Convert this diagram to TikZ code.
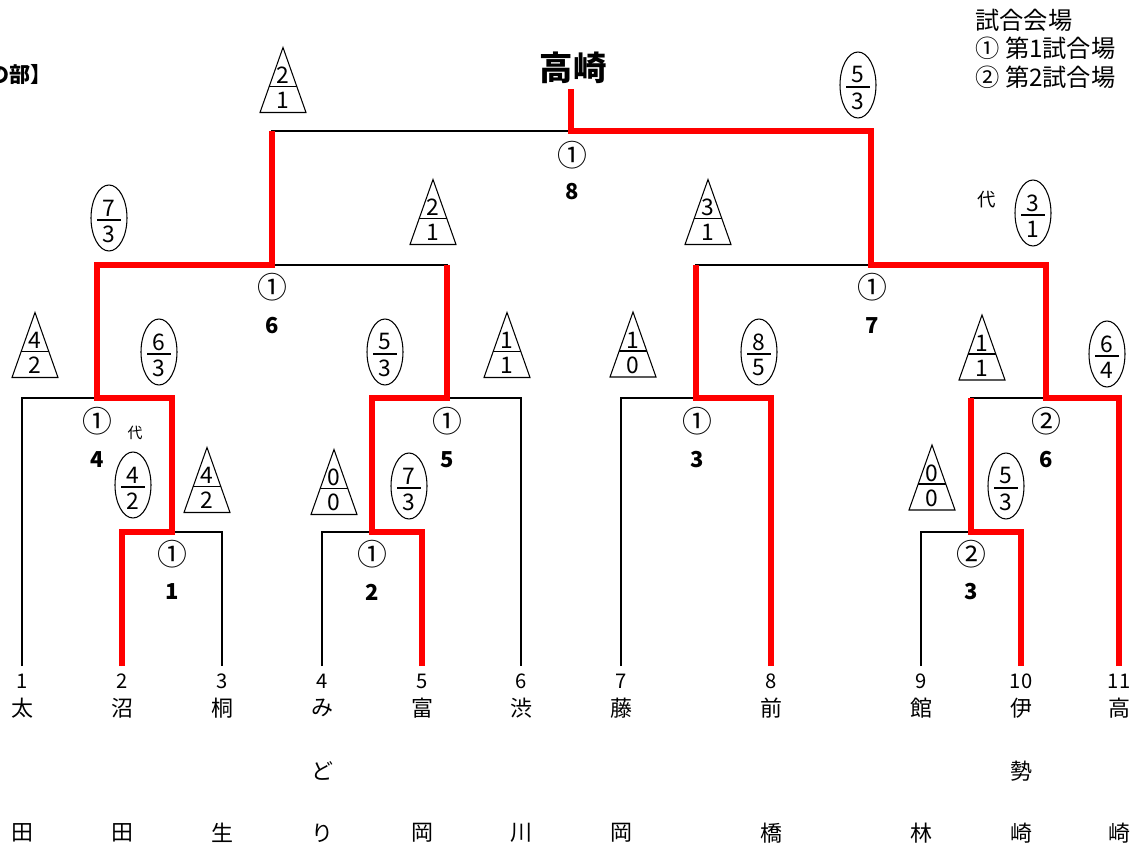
\documentclass[tikz,border=0pt]{standalone}
\usepackage{fontspec}
\setmainfont{Noto Sans CJK JP}

\newcommand{\ScoreTri}[5]{%
  \draw[markline] (#2,#3-33) -- (#2+23,#3+32) -- (#2-23,#3+32) -- cycle;
  \draw[markline] (#2-14,#3+6) -- (#2+14,#3+6);
  \node[score] (#1a) at (#2,#3-5) {#4};
  \node[score] (#1b) at (#2,#3+20) {#5};
}
\newcommand{\ScoreOval}[5]{%
  \draw[markline] (#2,#3) ellipse [x radius=0.36cm, y radius=0.66cm];
  \draw[markline] (#2-12,#3+2) -- (#2+12,#3+2);
  \node[score] (#1a) at (#2,#3-10) {#4};
  \node[score] (#1b) at (#2,#3+16) {#5};
}

\begin{document}
\begin{tikzpicture}[x=0.02cm, y=-0.02cm,
  lose/.style={black, line width=0.8pt},
  win/.style={red, line width=2.9pt},
  markline/.style={black, line width=0.6pt},
  score/.style={font=\fontsize{13}{13}\selectfont, inner sep=0pt},
  venue/.style={font=\fontsize{17}{17}\selectfont, inner sep=0pt},
  matchno/.style={font=\bfseries\fontsize{12.5}{13}\selectfont, inner sep=0pt},
  teamno/.style={font=\fontsize{11.5}{12}\selectfont, inner sep=0pt},
  teamname/.style={font=\fontsize{12.5}{13}\selectfont, inner sep=0pt},
  legend/.style={font=\fontsize{13.8}{14}\selectfont, inner sep=0pt, anchor=west}]

\useasboundingbox (0,0) rectangle (1140,851);

\node[anchor=east, inner sep=0pt, font=\bfseries\fontsize{12}{12}\selectfont] (title) at (52,75) {の部】};

\node[legend] (lg0) at (975,20) {試合会場};
\node[legend] (lg1) at (975,48) {① 第1試合場};
\node[legend] (lg2) at (975,77) {② 第2試合場};

\node[inner sep=0pt, font=\bfseries\fontsize{19}{19}\selectfont] (champ) at (573,68) {高崎};
\coordinate (top) at (571,89);

\coordinate (t1) at (22,666);
\coordinate (t2) at (122,666);
\coordinate (t3) at (222,666);
\coordinate (t4) at (322,666);
\coordinate (t5) at (422,666);
\coordinate (t6) at (521,666);
\coordinate (t7) at (621,666);
\coordinate (t8) at (771,666);
\coordinate (t9) at (921,666);
\coordinate (t10) at (1021,666);
\coordinate (t11) at (1119,666);

\coordinate (m1) at (172,532);
\coordinate (m2) at (372,532);
\coordinate (m3) at (696,398);
\coordinate (m4) at (97,398);
\coordinate (m5) at (447,398);
\coordinate (m6) at (272,265);
\coordinate (m7) at (871,265);
\coordinate (m8) at (571,131);
\coordinate (m9) at (971,532);
\coordinate (m10) at (1046,398);

\coordinate (s3) at (696,265);
\coordinate (s5) at (447,265);
\coordinate (s6) at (272,131);
\coordinate (s9) at (971,398);

\draw[lose] (t2) |- (m1) -| (t3);
\draw[lose] (t1) |- (m4) -| (m1);
\draw[lose] (t4) |- (m2) -| (t5);
\draw[lose] (m2) |- (m5) -| (t6);
\draw[lose] (m4) |- (m6) -| (m5);
\draw[lose] (t7) |- (m3) -| (t8);
\draw[lose] (t9) |- (m9) -| (t10);
\draw[lose] (m9) |- (m10) -| (t11);
\draw[lose] (m3) |- (m7) -| (m10);
\draw[lose] (m6) |- (m8) -| (m7);
\draw[lose] (m8) -- (top);

\draw[win] (t2) |- (m1) |- (m4) |- (m6) -- (s6);
\draw[win] (t5) |- (m2) |- (m5) -- (s5);
\draw[win] (t8) |- (m3) -- (s3);
\draw[win] (t10) |- (m9) -- (s9);
\draw[win] (t11) |- (m10) |- (m7) |- (m8) -- (top);

\node[venue] (v1) at (172,554) {①};
\node[matchno] (n1) at (172,592) {1};
\node[venue] (v2) at (372,554) {①};
\node[matchno] (n2) at (372,592) {2};
\node[venue] (v3) at (697,421) {①};
\node[matchno] (n3) at (697,460) {3};
\node[venue] (v4) at (97,421) {①};
\node[matchno] (n4) at (97,460) {4};
\node[venue] (v5) at (447,421) {①};
\node[matchno] (n5) at (447,460) {5};
\node[venue] (v6) at (272,287) {①};
\node[matchno] (n6) at (272,326) {6};
\node[venue] (v7) at (872,287) {①};
\node[matchno] (n7) at (872,326) {7};
\node[venue] (v8) at (572,155) {①};
\node[matchno] (n8) at (572,192) {8};
\node[venue] (v9) at (971,554) {②};
\node[matchno] (n9) at (971,592) {3};
\node[venue] (v10) at (1046,421) {②};
\node[matchno] (n10) at (1046,460) {6};

\node[inner sep=0pt, font=\fontsize{8.5}{9}\selectfont] (dai1) at (135,433) {代};
\node[inner sep=0pt, font=\fontsize{10.5}{11}\selectfont] (dai2) at (987,200) {代};

\ScoreTri{ra}{283}{80.5}{2}{1}
\ScoreTri{rb}{433}{212.5}{2}{1}
\ScoreTri{rc}{708}{212.5}{3}{1}
\ScoreTri{rd}{35}{345.5}{4}{2}
\ScoreTri{re}{507}{345.5}{1}{1}
\ScoreTri{rf}{633}{345}{1}{0}
\ScoreTri{rg}{982}{348}{1}{1}
\ScoreTri{rh}{207}{480.5}{4}{2}
\ScoreTri{ri}{334}{482.5}{0}{0}
\ScoreTri{rj}{932}{478}{0}{0}

\ScoreOval{oa}{109}{218}{7}{3}
\ScoreOval{ob}{858}{85}{5}{3}
\ScoreOval{oc}{1033}{213}{3}{1}
\ScoreOval{od}{159}{352}{6}{3}
\ScoreOval{oe}{385}{352}{5}{3}
\ScoreOval{of}{759}{352}{8}{5}
\ScoreOval{og}{1107}{354}{6}{4}
\ScoreOval{oh}{133}{485}{4}{2}
\ScoreOval{oi}{409}{486}{7}{3}
\ScoreOval{oj}{1006}{486}{5}{3}

\node[teamno] (k1) at (22,681) {1};
\node[teamno] (k2) at (122,681) {2};
\node[teamno] (k3) at (222,681) {3};
\node[teamno] (k4) at (322,681) {4};
\node[teamno] (k5) at (422,681) {5};
\node[teamno] (k6) at (521,681) {6};
\node[teamno] (k7) at (621,681) {7};
\node[teamno] (k8) at (771,681) {8};
\node[teamno] (k9) at (921,681) {9};
\node[teamno] (k10) at (1021,681) {10};
\node[teamno] (k11) at (1119,681) {11};

\node[teamname] (a1) at (22,708) {太};
\node[teamname] (a2) at (122,708) {沼};
\node[teamname] (a3) at (222,708) {桐};
\node[teamname] (a4) at (322,708) {み};
\node[teamname] (a5) at (422,708) {富};
\node[teamname] (a6) at (521,708) {渋};
\node[teamname] (a7) at (621,708) {藤};
\node[teamname] (a8) at (771,708) {前};
\node[teamname] (a9) at (921,708) {館};
\node[teamname] (a10) at (1021,708) {伊};
\node[teamname] (a11) at (1119,708) {高};

\node[teamname] (b4) at (322,771) {ど};
\node[teamname] (b10) at (1021,771) {勢};

\node[teamname] (c1) at (22,833) {田};
\node[teamname] (c2) at (122,833) {田};
\node[teamname] (c3) at (222,833) {生};
\node[teamname] (c4) at (322,833) {り};
\node[teamname] (c5) at (422,833) {岡};
\node[teamname] (c6) at (521,833) {川};
\node[teamname] (c7) at (621,833) {岡};
\node[teamname] (c8) at (771,833) {橋};
\node[teamname] (c9) at (921,833) {林};
\node[teamname] (c10) at (1021,833) {崎};
\node[teamname] (c11) at (1119,833) {崎};

\end{tikzpicture}
\end{document}
